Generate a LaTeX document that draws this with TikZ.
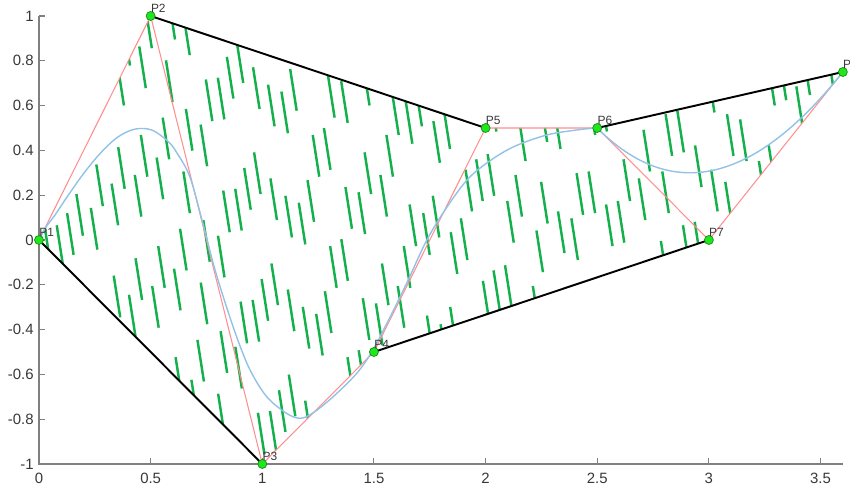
\documentclass[tikz,border=0pt]{standalone}
\usepackage{fontspec}
\setmainfont{Liberation Sans}
\usetikzlibrary{calc}
\definecolor{Spine}{HTML}{808080}
\definecolor{Ink}{HTML}{383838}
\definecolor{Hatch}{HTML}{14B04C}
\definecolor{Salmon}{HTML}{FF8E8E}
\definecolor{Sky}{HTML}{92C2E6}
\definecolor{Lime}{HTML}{20E620}
\definecolor{LimeEdge}{HTML}{148C14}

\tikzset{
  hull/.style={black,line width=1.1pt},
  ctrl/.style={Salmon,line width=0.6pt},
  curve/.style={Sky,line width=0.8pt},
  hatchline/.style={Hatch,line width=1.4pt},
  spine/.style={Spine,line width=0.6pt},
  vertex/.style={circle,fill=Lime,draw=LimeEdge,line width=0.4pt,inner sep=0pt,minimum size=0.18cm},
  vlabel/.style={anchor=south west,inner sep=0pt,text=Ink,font=\fontsize{6.8}{8}\selectfont},
  ticklabel/.style={inner sep=0pt,text=Ink,font=\fontsize{8.5}{10}\selectfont}
}

\begin{document}
\begin{tikzpicture}[x=4.466cm,y=4.48cm]
  \useasboundingbox (-0.1747,-1.107) rectangle (3.632,1.0714);

  % control points
  \coordinate (P1) at (0,0);
  \coordinate (P2) at (0.5,1);
  \coordinate (P3) at (1,-1);
  \coordinate (P4) at (1.5,-0.5);
  \coordinate (P5) at (2,0.5);
  \coordinate (P6) at (2.5,0.5);
  \coordinate (P7) at (3,0);
  \coordinate (P8) at (3.6,0.75);

  % axes
  \draw[spine] (0,1) -- (0,-1) -- (3.6,-1);
  \foreach \x in {0.5,1,1.5,2,2.5,3,3.5}
    \draw[spine] (\x,-1) -- ++(0,0.12cm);
  \foreach \y in {-0.8,-0.6,-0.4,-0.2,0,0.2,0.4,0.6,0.8,1}
    \draw[spine] (0,\y) -- ++(0.12cm,0);
  \foreach \x in {0,0.5,1,1.5,2,2.5,3,3.5}
    \node[ticklabel] at ([yshift=-0.28cm]\x,-1) {\x};
  \foreach \y in {-1,-0.8,-0.6,-0.4,-0.2,0,0.2,0.4,0.6,0.8,1}
    \node[ticklabel,anchor=east] at ([xshift=-0.1cm]0,\y) {\y};

  % hatching inside the hull
  \begin{scope}
    \clip (P1) -- (P2) -- (P5) -- (P6) -- (P8) -- (P7) -- (P4) -- (P3) -- cycle;
    \pgfmathsetseed{11}
    \foreach \k in {0,...,72}{
      \pgfmathsetmacro{\xa}{-0.35+0.055*\k}
      \pgfmathsetmacro{\ph}{random(0,64)}
      \draw[hatchline,dash pattern=on 24pt off 40pt,dash phase=\ph pt] (\xa,1.05) -- ++(0.345,-2.2);
    }
  \end{scope}

  % control polygon and curve
  \draw[ctrl] (P1) -- (P2) -- (P3) -- (P4) -- (P5) -- (P6) -- (P7) -- (P8);
  \draw[curve] plot[smooth,tension=0.55] coordinates {(P1) (0.027,0.052) (0.072,0.112) (0.131,0.2)
      (0.206,0.305) (0.281,0.394) (0.355,0.461) (0.43,0.495) (0.505,0.491) (0.579,0.439)
      (0.618,0.388) (0.676,0.281) (0.735,0.07) (0.78,-0.104) (0.825,-0.253) (0.885,-0.432)
      (0.945,-0.58) (1.02,-0.70) (1.109,-0.774) (1.17,-0.796) (1.227,-0.772) (1.317,-0.70)
      (1.424,-0.594) (1.496,-0.49) (1.572,-0.344) (1.648,-0.19) (1.737,0) (1.827,0.147)
      (1.917,0.268) (2.006,0.344) (2.123,0.415) (2.275,0.469) (2.423,0.493) (P6)}
    .. controls ($(P6)!2/3!(P7)$) and ($(P8)!2/3!(P7)$) .. (P8);

  % hull edges
  \draw[hull] (P1) -- (P3);
  \draw[hull] (P2) -- (P5);
  \draw[hull] (P4) -- (P7);
  \draw[hull] (P6) -- (P8);

  % markers and labels
  \foreach \i in {1,...,8}{
    \node[vertex] (v\i) at (P\i) {};
    \node[vlabel] (t\i) at ([yshift=0.06cm]P\i) {P\i};
  }
\end{tikzpicture}
\end{document}
